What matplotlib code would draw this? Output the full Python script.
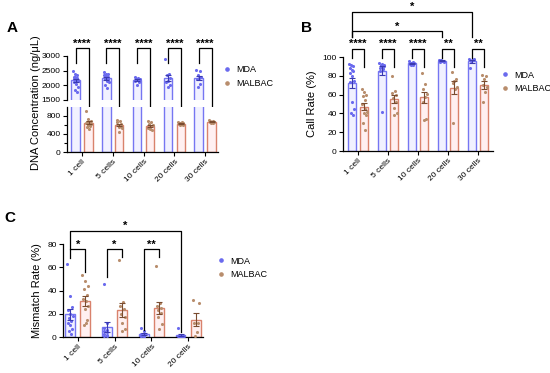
import numpy as np
import matplotlib
matplotlib.use("Agg")
import matplotlib.pyplot as plt
from matplotlib.lines import Line2D

plt.rcParams['font.family'] = ['Liberation Sans', 'DejaVu Sans']

# ---- data ----
groups_ab = ["1 cell", "5 cells", "10 cells", "20 cells", "30 cells"]
groups_c = ["1 cell", "5 cells", "10 cells", "20 cells"]

# A: DNA concentration (ng/uL)
conc_mda = [
    [2480, 2400, 2350, 2300, 2280, 2250, 2200, 2180, 2150, 2100, 2050, 1950, 1850, 1780],
    [2450, 2400, 2380, 2350, 2320, 2300, 2280, 2250, 2220, 2200, 2150, 2100, 2000, 1900],
    [2300, 2250, 2220, 2200, 2180, 2150, 2120, 2000],
    [2900, 2400, 2350, 2250, 2150, 2100, 2000, 1950],
    [2520, 2480, 2350, 2300, 2250, 2200, 2050, 1950],
]
conc_malbac = [
    [900, 720, 690, 670, 650, 640, 630, 610, 600, 580, 540, 500],
    [700, 680, 650, 620, 600, 580, 560, 520, 450],
    [680, 660, 620, 600, 560, 520, 480, 500],
    [660, 650, 640, 630, 620, 610, 600, 590],
    [700, 690, 680, 670, 660, 650, 640, 630],
]

# B: call rate (%)
call_mda = [
    [93, 91, 90, 88, 86, 85, 83, 80, 75, 73, 52, 45, 40, 38],
    [94, 93, 92, 91, 90, 90, 89, 88, 87, 85, 42],
    [96, 95, 94, 94, 93, 93, 92, 91],
    [97, 96, 96, 95, 95, 96, 97],
    [98, 98, 97, 97, 96, 88],
]
call_malbac = [
    [66, 63, 60, 58, 54, 50, 45, 42, 40, 38, 30, 22],
    [80, 64, 62, 60, 56, 52, 46, 40, 38],
    [83, 71, 66, 61, 57, 52, 34, 33],
    [84, 77, 75, 72, 68, 66, 30],
    [81, 80, 77, 70, 68, 63, 52],
]

# C: mismatch rate (%)
mism_mda = [
    [63, 35, 26, 23, 20, 18, 16, 14, 12, 10, 7, 5, 3],
    [46, 12, 8, 6, 5, 4, 3, 2, 1, 1],
    [8, 5, 3, 2, 2, 1, 1, 0.5, 0.5, 1],
    [8, 1, 1, 0.5, 0.5, 0.5, 0.3, 0.2],
]
mism_malbac = [
    [53, 48, 44, 41, 36, 33, 31, 27, 24, 15, 10, 12],
    [66, 30, 27, 24, 20, 17, 12, 7, 5],
    [61, 29, 27, 25, 23, 21, 17, 11, 7],
    [32, 29, 12, 4, 1, 12],
]

sig_a = ["****"] * 5
sig_b = ["****", "****", "****", "**", "**"]
sig_c = ["*", "*", "**"]

MDA_EDGE = "#7676f2"
MDA_FACE = "#f1f1ff"
MDA_DOT = "#6a6aee"
MDA_ERR = "#3a3ab0"
MAL_EDGE = "#d9826c"
MAL_FACE = "#fff0f1"
MAL_DOT = "#b88d6c"
MAL_ERR = "#7a4c30"

OFF = 0.21
W = 0.27


def jitter(n, width):
    # spread points over the bar in a fixed order
    if n < 2:
        return np.zeros(n)
    pos = np.array([(i * 5) % n for i in range(n)], dtype=float)
    return (pos / (n - 1) - 0.5) * width


def draw_group(ax, xs, pts, edge, face, dot, err):
    means = [np.mean(p) for p in pts]
    sems = [np.std(p, ddof=1) / np.sqrt(len(p)) for p in pts]
    ax.bar(xs, means, width=W, facecolor=face, edgecolor=edge, linewidth=1.0, zorder=2)
    for x, p in zip(xs, pts):
        ax.scatter(x + jitter(len(p), W * 0.6), p, s=5, color=dot, zorder=3, linewidths=0)
    ax.errorbar(xs, means, yerr=sems, fmt='none', ecolor=err, elinewidth=0.8,
                capsize=2, capthick=0.8, zorder=4)


def style(ax):
    ax.spines['top'].set_visible(False)
    ax.spines['right'].set_visible(False)
    ax.tick_params(labelsize=6, length=3, width=0.8, pad=1.5)
    for s in ax.spines.values():
        s.set_linewidth(0.9)


def bracket(ax, x1, x2, y, b1, b2, label, dy):
    ax.plot([x1, x1, x2, x2], [b1, y, y, b2], color='black', lw=0.9, clip_on=False, zorder=5)
    ax.text((x1 + x2) / 2, y + dy, label, ha='center', va='center', fontsize=8,
            fontweight='bold', clip_on=False)


fig = plt.figure(figsize=(5.5, 3.73), dpi=100)
H = 373.0
Wd = 550.0


def box(l, r, top, bot):
    return [l / Wd, 1 - bot / H, (r - l) / Wd, (bot - top) / H]


# ---- panel A (broken axis) ----
axA_hi = fig.add_axes(box(67, 218, 56, 100))
axA_lo = fig.add_axes(box(67, 218, 106.5, 152))
xa = np.arange(len(groups_ab))
for ax in (axA_hi, axA_lo):
    draw_group(ax, xa - OFF, conc_mda, MDA_EDGE, MDA_FACE, MDA_DOT, MDA_ERR)
    draw_group(ax, xa + OFF, conc_malbac, MAL_EDGE, MAL_FACE, MAL_DOT, MAL_ERR)
    style(ax)
    ax.set_xlim(-0.49, 4.42)
axA_hi.set_ylim(1500, 3000)
axA_hi.set_yticks([1500, 2000, 2500, 3000])
axA_hi.spines['bottom'].set_visible(False)
axA_hi.set_xticks([])
axA_lo.set_ylim(0, 1000)
axA_lo.set_yticks([0, 400, 800])
axA_lo.set_yticks([200, 600], minor=True)
axA_lo.tick_params(which='minor', length=2, width=0.8)
axA_lo.set_xticks(xa)
axA_lo.set_xticklabels(groups_ab, rotation=45, ha='right', rotation_mode='anchor')
fig.text(36 / Wd, 1 - 103 / H, "DNA Concentration (ng/\u03bcL)",
         rotation=90, ha='center', va='center', fontsize=8)
for i, lab in enumerate(sig_a):
    bracket(axA_hi, i - OFF, i + OFF, 3270, 2770, 1090, lab, 160)

# ---- panel B ----
axB = fig.add_axes(box(343, 493, 57, 151))
xb = np.arange(len(groups_ab))
draw_group(axB, xb - OFF, call_mda, MDA_EDGE, MDA_FACE, MDA_DOT, MDA_ERR)
draw_group(axB, xb + OFF, call_malbac, MAL_EDGE, MAL_FACE, MAL_DOT, MAL_ERR)
style(axB)
axB.set_xlim(-0.5, 4.5)
axB.set_ylim(0, 100)
axB.set_yticks([0, 20, 40, 60, 80, 100])
axB.set_xticks(xb)
axB.set_xticklabels(groups_ab, rotation=45, ha='right', rotation_mode='anchor')
axB.set_ylabel("Call Rate (%)", fontsize=8, labelpad=4)
for i, lab in enumerate(sig_b):
    bracket(axB, i - OFF, i + OFF, 108.5, 99, 89, lab, 5)
bracket(axB, -OFF, 3 - OFF, 127.5, 121, 121, "*", 5)
bracket(axB, -OFF, 4 - OFF, 148, 121, 121, "*", 5)

# ---- panel C ----
axC = fig.add_axes(box(63, 203, 244, 337))
xc = np.arange(len(groups_c))
draw_group(axC, xc - OFF, mism_mda, MDA_EDGE, MDA_FACE, MDA_DOT, MDA_ERR)
draw_group(axC, xc + OFF, mism_malbac, MAL_EDGE, MAL_FACE, MAL_DOT, MAL_ERR)
style(axC)
axC.set_xlim(-0.4, 3.4)
axC.set_ylim(0, 80)
axC.set_yticks([0, 20, 40, 60, 80])
axC.set_xticks(xc)
axC.set_xticklabels(groups_c, rotation=45, ha='right', rotation_mode='anchor')
axC.set_ylabel("Mismatch Rate (%)", fontsize=8, labelpad=4)
legs_c = [(68, 56), (52, 69), (6, 69)]
for i, lab in enumerate(sig_c):
    bracket(axC, i - OFF, i + OFF, 75.7, legs_c[i][0], legs_c[i][1], lab, 4)
bracket(axC, -OFF, 3 - OFF, 91, 75.7, 4.5, "*", 5)

# ---- legends ----
handles = [Line2D([], [], marker='o', ls='none', ms=2.3, color=MDA_DOT),
           Line2D([], [], marker='o', ls='none', ms=2.3, color=MAL_DOT)]
for (lx, ly) in [(222, 76.5), (500, 82), (216, 268)]:
    fig.legend(handles, ["MDA", "MALBAC"], loc='center left',
               bbox_to_anchor=(lx / Wd, 1 - ly / H), frameon=False, fontsize=6.5,
               handlelength=1.0, handletextpad=0.6, labelspacing=0.55, borderpad=0,
               borderaxespad=0)

# ---- panel letters ----
for lab, (px, py) in zip("ABC", [(12, 28), (307, 28), (10, 218)]):
    fig.text(px / Wd, 1 - py / H, lab, fontsize=11, fontweight='bold', ha='center', va='center')

fig.savefig("out.png", dpi=100)
